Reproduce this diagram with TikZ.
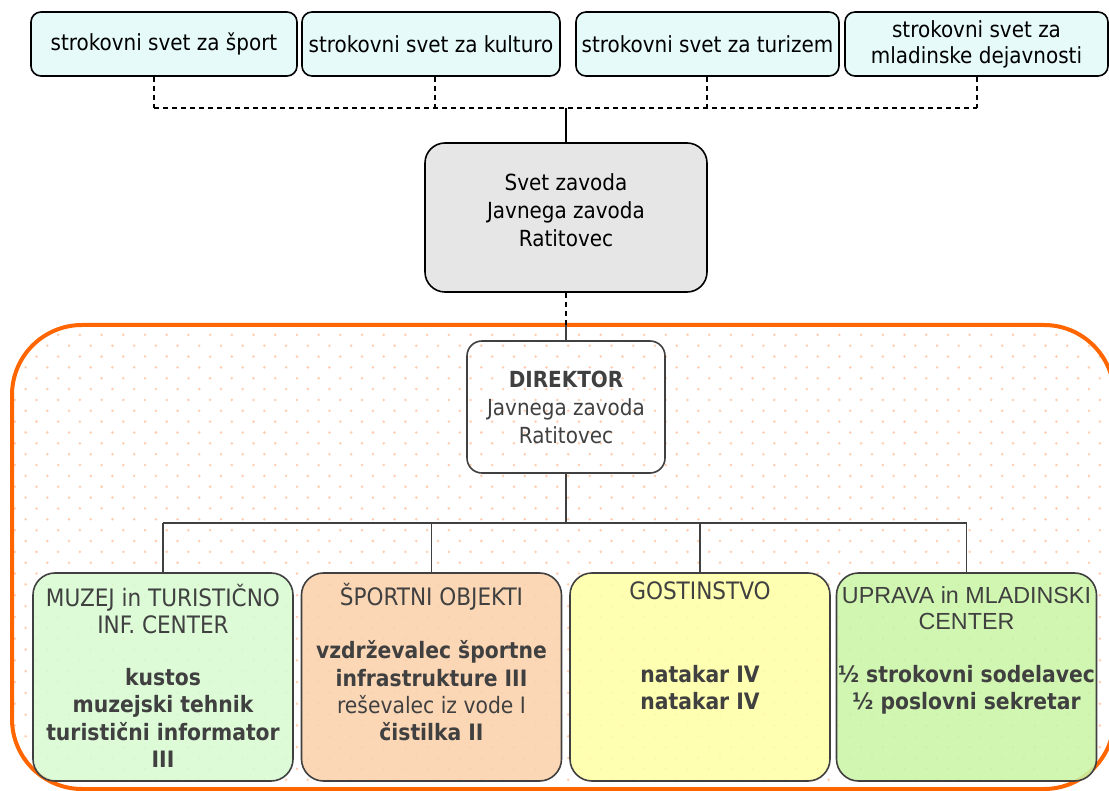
\documentclass[tikz,border=0pt]{standalone}
\usepackage{fontspec}
\setmainfont{DejaVu Sans Condensed}
\newfontfamily\arialfont{Liberation Sans}
\usetikzlibrary{positioning}

\definecolor{councilfill}{HTML}{E6FAFA}
\definecolor{boardfill}{HTML}{E6E6E6}
\definecolor{frameorange}{HTML}{FF6600}
\definecolor{dotorange}{HTML}{FFCDAE}
\definecolor{unitgray}{HTML}{404040}
\definecolor{museumfill}{HTML}{D8FBD2}
\definecolor{sportfill}{HTML}{FBD2AC}
\definecolor{cateringfill}{HTML}{FFFFA6}
\definecolor{officefill}{HTML}{CAF5A6}

\begin{document}
\begin{tikzpicture}[x=1pt, y=-1pt]
	\tikzstyle{council} = [draw=black, line width=1.6pt, rounded corners=10pt, fill=councilfill, minimum height=64pt, inner sep=0pt, align=center, font=\fontsize{22.2}{26}\selectfont]
	\tikzstyle{board}   = [draw=black, line width=1.6pt, rounded corners=20pt, fill=boardfill, minimum width=282pt, minimum height=149pt]
	\tikzstyle{unit}    = [draw=unitgray, line width=1.6pt, rounded corners=22pt, minimum width=260pt, minimum height=208pt, fill opacity=0.88, text opacity=1]
	\tikzstyle{caption} = [text=unitgray, align=center, inner sep=0pt, font=\fontsize{24}{27}\selectfont]
	\tikzstyle{staff}   = [text=unitgray, align=center, inner sep=0pt, font=\fontsize{22.6}{27.3}\selectfont]
	\tikzstyle{link}    = [draw=unitgray, line width=1.6pt]

	\useasboundingbox (0,0) rectangle (1109,791);
	\clip (0,0) rectangle (1109,791);

	% dotted background of the institute
	\begin{scope}
		\clip[rounded corners=70pt] (12,325) rectangle (1114,789);
		\foreach \j in {0,...,43}
			\foreach \i in {0,...,51}
				\fill[dotorange] ({14.8+\i*21.7+mod(\j+1,2)*10.85}, {324+\j*10.85}) circle (1.4pt);
	\end{scope}
	\draw[frameorange, line width=4pt, rounded corners=70pt] (12,325) rectangle (1114,789);

	% expert councils
	\foreach \name/\x/\w/\text in {sport/164/266/strokovni svet za šport, culture/431/258/strokovni svet za kulturo, tourism/707.5/263/strokovni svet za turizem, youth/976.5/263/{strokovni svet za\\mladinske dejavnosti}}
		\node[council, minimum width=\w pt] (\name) at (\x, 44) {\text};

	\node[board] (board) at (566, 217.5) {};
	\node[align=center, inner sep=0pt, font=\fontsize{22.2}{28}\selectfont] (board-text) at (566, 210) {Svet zavoda\\Javnega zavoda\\Ratitovec};

	\foreach \name/\x in {sport/154, culture/435, tourism/707, youth/977}
		\coordinate (j-\name) at (\x, 108);
	\foreach \name in {sport, culture, tourism, youth}
		\draw[line width=1.6pt, dash pattern=on 5pt off 4pt] (j-\name |- \name.south) -- (j-\name);
	\draw[line width=1.6pt, dash pattern=on 5pt off 4pt] (j-sport) -- (j-youth);
	\coordinate (j-board) at (566, 108);
	\draw[line width=1.6pt] (j-board) -- (board.north);

	% director
	\node[draw=unitgray, line width=1.6pt, rounded corners=15pt, minimum width=198pt, minimum height=132pt, text=unitgray, align=center, font=\fontsize{22.2}{28}\selectfont] (director) at (566, 407) {\textbf{DIREKTOR}\\Javnega zavoda\\Ratitovec};
	\coordinate (frametop) at (566, 325);
	\draw[line width=1.6pt, dash pattern=on 5pt off 4pt] (board.south) -- (frametop);
	\draw[link] (frametop) -- (director.north);

	% organisational units
	\node[unit, fill=museumfill]   (museum)   at (163, 677) {};
	\node[unit, fill=sportfill]    (sports)   at (431.5, 677) {};
	\node[unit, fill=cateringfill] (catering) at (700, 677) {};
	\node[unit, fill=officefill]   (office)   at (966.5, 677) {};

	\coordinate (hub) at (566, 523);
	\draw[link] (director.south) -- (hub);
	\draw[link] (hub -| museum.north) -- (hub -| office.north);
	\foreach \unit in {museum, sports, catering, office}
		\draw[link] (hub -| \unit.north) -- (\unit.north);

	\node[caption] (museum-title) at (163, 609.5) {MUZEJ in TURISTIČNO\\INF. CENTER};
	\node[staff, font=\fontsize{22.6}{27.3}\selectfont\bfseries] (museum-staff) at (163, 718) {kustos\\muzejski tehnik\\turistični informator\\III};

	\node[caption] (sports-title) at (431.5, 597) {ŠPORTNI OBJEKTI};
	\node[staff] (sports-staff) at (431.5, 691) {\textbf{vzdrževalec športne}\\\textbf{infrastrukture III}\\reševalec iz vode I\\\textbf{čistilka II}};

	\node[caption] (catering-title) at (700, 591) {GOSTINSTVO};
	\node[staff, font=\fontsize{22.6}{27.3}\selectfont\bfseries] (catering-staff) at (700, 687.5) {natakar IV\\natakar IV};

	\node[caption, font=\fontsize{23.3}{26}\selectfont\arialfont] (office-title) at (966.5, 608) {UPRAVA in MLADINSKI\\CENTER};
	\node[staff, font=\fontsize{22.6}{27.3}\selectfont\bfseries] (office-staff) at (966.5, 689.5) {½ strokovni sodelavec\\½ poslovni sekretar};
\end{tikzpicture}
\end{document}
